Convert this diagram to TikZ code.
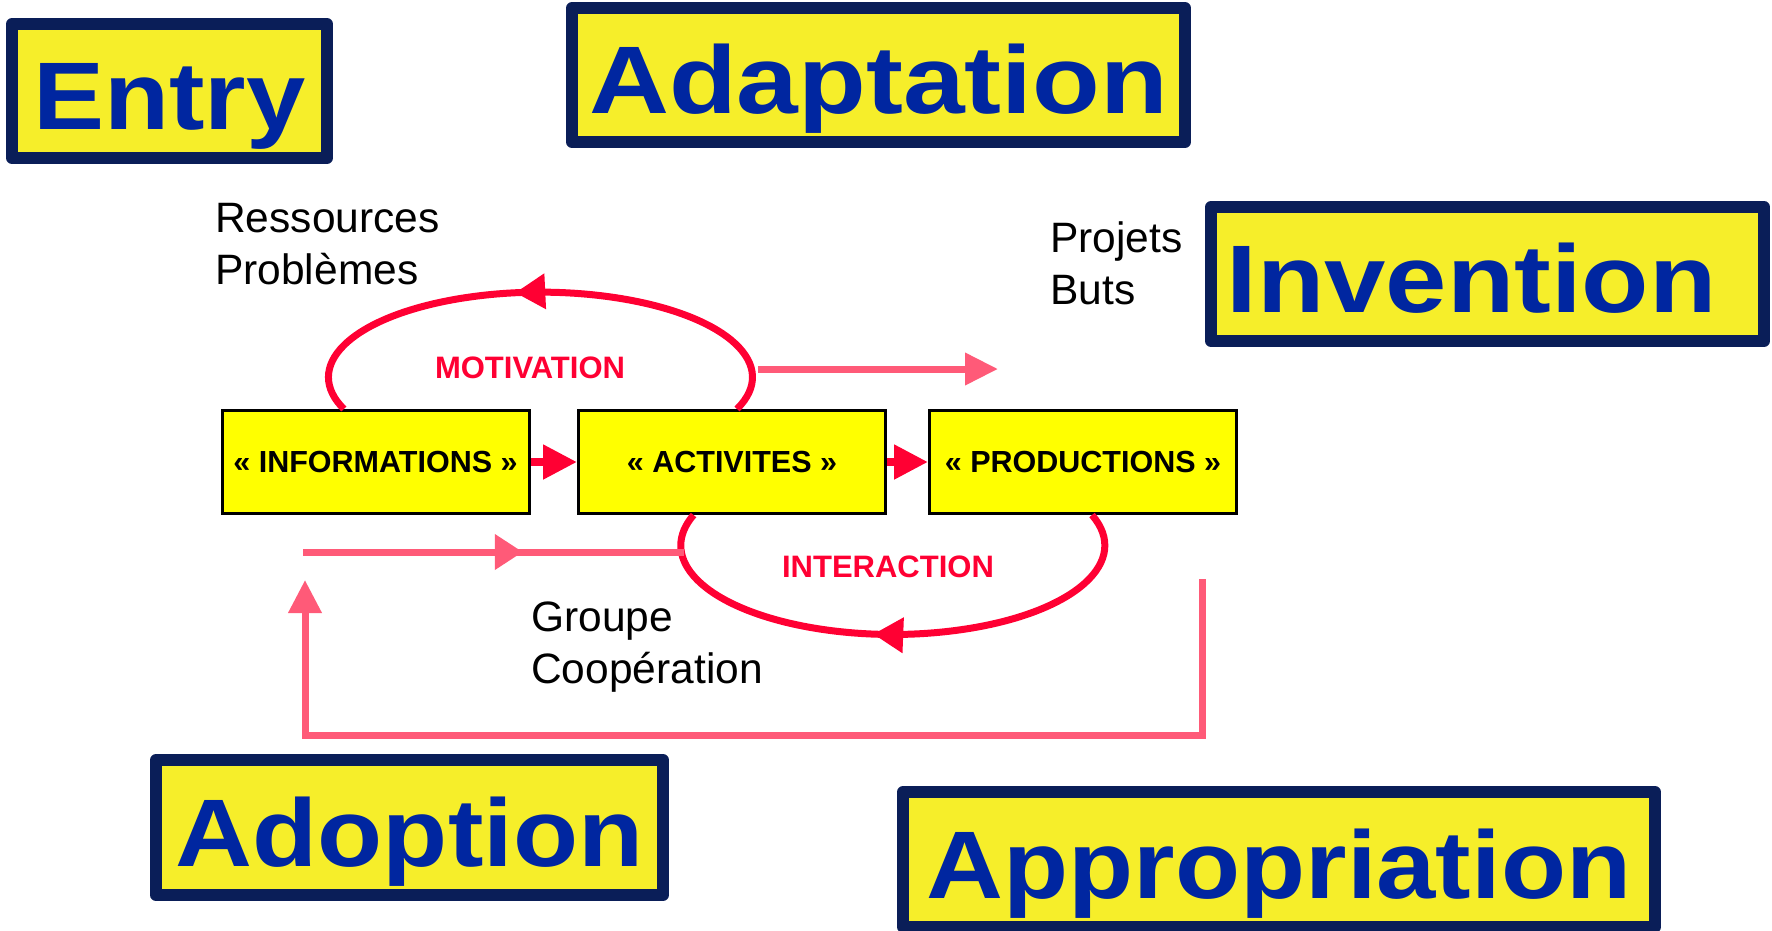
\documentclass[tikz,border=0pt]{standalone}
\usepackage{fontspec}
\setmainfont{Liberation Sans}
\newfontfamily\stagefont{Liberation Sans}[FakeStretch=1.11]
\usepackage{tikz}
\usetikzlibrary{arrows.meta,decorations.markings}
\definecolor{loopred}{RGB}{255,0,51}
\definecolor{flowpink}{RGB}{255,90,120}
\definecolor{stageblue}{RGB}{0,38,160}
\definecolor{stagenavy}{RGB}{10,30,88}
\definecolor{stageyellow}{RGB}{246,238,42}
\definecolor{boxyellow}{RGB}{255,255,0}
\tikzstyle{stage}=[draw=stagenavy, fill=stageyellow, line width=12pt, line join=round, text=stageblue, inner sep=0pt, text height=77pt, text depth=0pt, font={\stagefont\bfseries\fontsize{96}{96}\selectfont}]
\tikzstyle{flowbox}=[draw=black, fill=boxyellow, line width=3pt, minimum width=307pt, minimum height=103pt, inner sep=0pt, font={\bfseries\fontsize{30.5}{30.5}\selectfont}]
\tikzstyle{tag}=[text=loopred, inner sep=0pt, font={\bfseries\fontsize{31}{31}\selectfont}]
\tikzstyle{note}=[anchor=north west, align=left, inner sep=0pt, font={\fontsize{42.5}{52}\selectfont}]
\tikzstyle{flow}=[draw=flowpink, line width=7pt]
\tikzstyle{pushed}=[draw=loopred, line width=8pt, -{Triangle[length=34pt,width=33pt]}]
\tikzset{ringline/.style={draw=loopred, line width=7pt,
    postaction={decorate,
                decoration={markings,mark=at position #1 with {\arrow{Triangle[length=30pt,width=34pt]}}}
               }
    }}
\newcommand{\stagebox}{\node[stage]}
\newcommand{\flowbox}{\node[flowbox]}

\begin{document}
\begin{tikzpicture}[x=1pt,y=-1pt]
\useasboundingbox (0,0) rectangle (1772,930);
% stages
\stagebox (entry) at (169.5,91) [minimum width=315pt, minimum height=134pt] {Entry};
\stagebox (adaptation) at (878.5,75) [minimum width=613pt, minimum height=134pt] {\scalebox{1.04}[1]{Adaptation}};
\stagebox (invention) at (1487.5,274) [minimum width=553pt, minimum height=134pt] {\scalebox{1.035}[1]{Invention}\hspace*{32pt}};
\stagebox (adoption) at (409.5,827.5) [minimum width=507pt, minimum height=135pt] {Adoption};
\stagebox (appropriation) at (1279,859.5) [minimum width=752pt, minimum height=135pt] {Appropriation};
% chain
\flowbox (info) at (375.5,462) {« INFORMATIONS »};
\flowbox (act) at (732,462) {« ACTIVITES »};
\flowbox (prod) at (1083,462) {« PRODUCTIONS »};
\path
(info.east) edge[pushed] (act.west)
(act.east) edge[pushed] (prod.west)
;
% loops
\draw[ringline=0.545] ([xshift=160pt]act.north west) arc[start angle=22, end angle=-202, x radius=212, y radius=85];
\draw[ringline=0.535] ([xshift=164pt]prod.south west) arc[start angle=-20, end angle=200, x radius=212, y radius=89];
\node[tag] (motivation) at (530,368) {MOTIVATION};
\node[tag] (interaction) at (888,567) {INTERACTION};
% pink flows
\coordinate (motright) at (758,369);
\coordinate (goal) at (998,369);
\coordinate (grpstart) at (303,552);
\coordinate (intleft) at (684,552);
\coordinate (fbtop) at (1202,579);
\coordinate (fbright) at (1202,735);
\coordinate (fbleft) at (305,735);
\coordinate (fbend) at (305,580);
\draw[flow, -{Triangle[length=33pt,width=31pt]}] (motright) -- (goal);
\draw[flow, postaction={decorate, decoration={markings,mark=at position 0.577 with {\arrow{Triangle[length=28pt,width=34pt]}}}}] (grpstart) -- (intleft);
\draw[flow, -{Triangle[length=33pt,width=32pt]}] (fbtop) -- (fbright) -- (fbleft) -- (fbend);
% notes
\node[note] (resources) at (215,203) {Ressources\\Problèmes};
\node[note] (goals) at (1050,221) {Projets\\Buts};
\node[note] (group) at (531,602) {Groupe\\Coopération};
\end{tikzpicture}
\end{document}
